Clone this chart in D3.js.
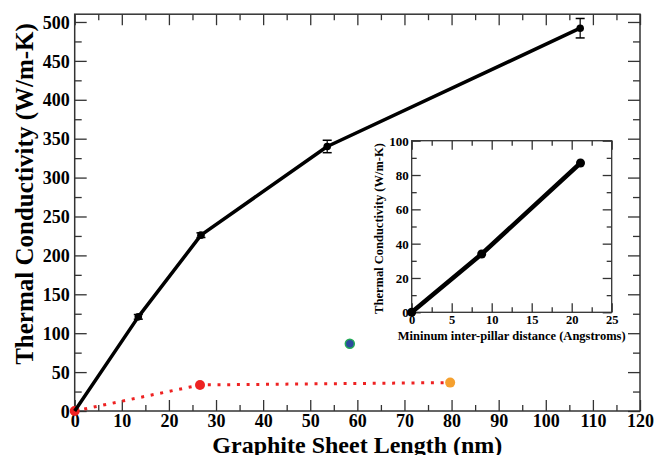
<!DOCTYPE html>
<html>
<head>
<meta charset="utf-8">
<script src="https://cdn.jsdelivr.net/npm/d3@7"></script>
<style>
  html, body { margin: 0; padding: 0; background: #fff; }
  svg { display: block; }
  text { font-family: "Liberation Serif", "Times New Roman", serif; font-weight: bold; fill: #000; }
</style>
</head>
<body>
<svg id="chart" width="656" height="455" font-family="Liberation Serif"></svg>
<script>
// Thermal conductivity vs. graphite sheet length (main panel)
const sheetLength = [0, 13.5, 26.8, 53.6, 107.3];
const conductivity = [0, 121, 226, 340, 492];
const conductivityErr = [0, 3, 3, 8, 12.5];

// Pillared structures (dotted series)
const pillaredLength = [0, 26.6, 79.7];
const pillaredK = [0, 33.5, 36.5];
const pillaredColors = ["#ee2222", "#ee2222", "#f5a02e"];

// Single extra point
const extraLength = [58.4];
const extraK = [86.5];

// Inset: conductivity vs. minimum inter-pillar distance
const pillarDist = [0, 8.75, 21.1];
const pillarK = [0, 34, 87];

const xMajor = d3.range(0, 121, 10);
const xMinor = d3.range(5, 120, 10);
const yMajor = d3.range(0, 501, 50);
const yMinor = d3.range(25, 510, 50);
const ixMajor = d3.range(0, 26, 5);
const ixMinor = d3.range(2.5, 25, 5);
const iyMajor = d3.range(0, 101, 20);
const iyMinor = d3.range(10, 100, 20);

const svg = d3.select("#chart");
const axisColor = "#333";

// ---------- main panel ----------
const x = d3.scaleLinear().domain([0, 120]).range([74.7, 640]);
const y = d3.scaleLinear().domain([0, 510]).range([411, 14.2]);

function styleAxis(g) {
  g.attr("font-family", null);
  g.select(".domain").remove();
  g.selectAll(".tick line").attr("stroke", axisColor).attr("stroke-width", 1.3);
}

const [x0, x1] = x.range();
const [y0, y1] = y.range();

// bottom
svg.append("g").attr("transform", `translate(0,${y0})`)
  .call(d3.axisBottom(x).tickValues(xMajor).tickSize(-11).tickFormat(d3.format("d")))
  .call(styleAxis)
  .call(g => g.selectAll("text").attr("y", 16).attr("dy", 0).attr("font-size", 18));
svg.append("g").attr("transform", `translate(0,${y0})`)
  .call(d3.axisBottom(x).tickValues(xMinor).tickSize(-6).tickFormat(""))
  .call(styleAxis);
// top
svg.append("g").attr("transform", `translate(0,${y1})`)
  .call(d3.axisTop(x).tickValues(xMajor).tickSize(-11).tickFormat(""))
  .call(styleAxis);
svg.append("g").attr("transform", `translate(0,${y1})`)
  .call(d3.axisTop(x).tickValues(xMinor).tickSize(-6).tickFormat(""))
  .call(styleAxis);
// left
svg.append("g").attr("transform", `translate(${x0},0)`)
  .call(d3.axisLeft(y).tickValues(yMajor).tickSize(-12).tickFormat(d3.format("d")))
  .call(styleAxis)
  .call(g => g.selectAll("text").attr("x", -5).attr("dy", "0.34em").attr("font-size", 18));
svg.append("g").attr("transform", `translate(${x0},0)`)
  .call(d3.axisLeft(y).tickValues(yMinor).tickSize(-7).tickFormat(""))
  .call(styleAxis);
// right
svg.append("g").attr("transform", `translate(${x1},0)`)
  .call(d3.axisRight(y).tickValues(yMajor).tickSize(-12).tickFormat(""))
  .call(styleAxis);
svg.append("g").attr("transform", `translate(${x1},0)`)
  .call(d3.axisRight(y).tickValues(yMinor).tickSize(-7).tickFormat(""))
  .call(styleAxis);

svg.append("rect")
  .attr("x", x0).attr("y", y1).attr("width", x1 - x0).attr("height", y0 - y1)
  .attr("fill", "none").attr("stroke", axisColor).attr("stroke-width", 1.5);

svg.append("text")
  .attr("x", (x0 + x1) / 2).attr("y", 453)
  .attr("text-anchor", "middle").attr("font-size", 24)
  .text("Graphite Sheet Length (nm)");

svg.append("text")
  .attr("transform", `translate(33,194) rotate(-90)`)
  .attr("text-anchor", "middle").attr("font-size", 25)
  .text("Thermal Conductivity (W/m-K)");

// dotted pillared series
const pillared = pillaredLength.map((d, i) => ({ x: d, y: pillaredK[i], c: pillaredColors[i] }));
svg.append("path")
  .datum(pillared)
  .attr("fill", "none").attr("stroke", "#ee2222").attr("stroke-width", 3)
  .attr("stroke-dasharray", "3,6.7")
  .attr("d", d3.line().x(d => x(d.x)).y(d => y(d.y)));
svg.selectAll(".pil").data(pillared).join("circle")
  .attr("cx", d => x(d.x)).attr("cy", d => y(d.y)).attr("r", 5)
  .attr("fill", d => d.c);

// extra point
svg.selectAll(".extra").data(extraLength).join("circle")
  .attr("cx", d => x(d)).attr("cy", (d, i) => y(extraK[i])).attr("r", 4.5)
  .attr("fill", "#2b4a9e").attr("stroke", "#23aa58").attr("stroke-width", 1.5);

// main series
const main = sheetLength.map((d, i) => ({ x: d, y: conductivity[i], e: conductivityErr[i] }));
svg.append("path")
  .datum(main)
  .attr("fill", "none").attr("stroke", "#000").attr("stroke-width", 3.5)
  .attr("stroke-linejoin", "round")
  .attr("d", d3.line().x(d => x(d.x)).y(d => y(d.y)));
const eb = svg.selectAll(".err").data(main.filter(d => d.e > 0)).join("g");
eb.append("line")
  .attr("x1", d => x(d.x)).attr("x2", d => x(d.x))
  .attr("y1", d => y(d.y - d.e)).attr("y2", d => y(d.y + d.e))
  .attr("stroke", "#000").attr("stroke-width", 1.2);
eb.append("line")
  .attr("x1", d => x(d.x) - 4.5).attr("x2", d => x(d.x) + 4.5)
  .attr("y1", d => y(d.y - d.e)).attr("y2", d => y(d.y - d.e))
  .attr("stroke", "#000").attr("stroke-width", 1.5);
eb.append("line")
  .attr("x1", d => x(d.x) - 4.5).attr("x2", d => x(d.x) + 4.5)
  .attr("y1", d => y(d.y + d.e)).attr("y2", d => y(d.y + d.e))
  .attr("stroke", "#000").attr("stroke-width", 1.5);
svg.selectAll(".mk").data(main.filter(d => d.x > 0)).join("circle")
  .attr("cx", d => x(d.x)).attr("cy", d => y(d.y)).attr("r", 3.8)
  .attr("fill", "#000");

// ---------- inset ----------
const ix = d3.scaleLinear().domain([0, 25]).range([411.7, 611.7]);
const iy = d3.scaleLinear().domain([0, 100]).range([312.3, 140.7]);
const [ix0, ix1] = ix.range();
const [iy0, iy1] = iy.range();

svg.append("rect")
  .attr("x", ix0).attr("y", iy1).attr("width", ix1 - ix0).attr("height", iy0 - iy1)
  .attr("fill", "#fff");

svg.append("g").attr("transform", `translate(0,${iy0})`)
  .call(d3.axisBottom(ix).tickValues(ixMajor).tickSize(-9).tickFormat(d3.format("d")))
  .call(styleAxis)
  .call(g => g.selectAll("text").attr("y", 12).attr("dy", 0).attr("font-size", 12.5));
svg.append("g").attr("transform", `translate(0,${iy0})`)
  .call(d3.axisBottom(ix).tickValues(ixMinor).tickSize(-5).tickFormat(""))
  .call(styleAxis);
svg.append("g").attr("transform", `translate(0,${iy1})`)
  .call(d3.axisTop(ix).tickValues(ixMajor).tickSize(-9).tickFormat(""))
  .call(styleAxis);
svg.append("g").attr("transform", `translate(0,${iy1})`)
  .call(d3.axisTop(ix).tickValues(ixMinor).tickSize(-5).tickFormat(""))
  .call(styleAxis);
svg.append("g").attr("transform", `translate(${ix0},0)`)
  .call(d3.axisLeft(iy).tickValues(iyMajor).tickSize(-9).tickFormat(d3.format("d")))
  .call(styleAxis)
  .call(g => g.selectAll("text").attr("x", -3).attr("dy", "0.34em").attr("font-size", 13));
svg.append("g").attr("transform", `translate(${ix0},0)`)
  .call(d3.axisLeft(iy).tickValues(iyMinor).tickSize(-5).tickFormat(""))
  .call(styleAxis);
svg.append("g").attr("transform", `translate(${ix1},0)`)
  .call(d3.axisRight(iy).tickValues(iyMajor).tickSize(-9).tickFormat(""))
  .call(styleAxis);
svg.append("g").attr("transform", `translate(${ix1},0)`)
  .call(d3.axisRight(iy).tickValues(iyMinor).tickSize(-5).tickFormat(""))
  .call(styleAxis);

svg.append("rect")
  .attr("x", ix0).attr("y", iy1).attr("width", ix1 - ix0).attr("height", iy0 - iy1)
  .attr("fill", "none").attr("stroke", axisColor).attr("stroke-width", 1.3);

svg.append("text")
  .attr("x", (ix0 + ix1) / 2).attr("y", 339.5)
  .attr("text-anchor", "middle").attr("font-size", 12.5)
  .text("Mininum inter-pillar distance (Angstroms)");

svg.append("text")
  .attr("transform", `translate(383,${(iy0 + iy1) / 2 + 2}) rotate(-90)`)
  .attr("text-anchor", "middle").attr("font-size", 12.5)
  .text("Thermal Conductivity (W/m-K)");

const inset = pillarDist.map((d, i) => ({ x: d, y: pillarK[i] }));
svg.append("path")
  .datum(inset)
  .attr("fill", "none").attr("stroke", "#000").attr("stroke-width", 4.5)
  .attr("d", d3.line().x(d => ix(d.x)).y(d => iy(d.y)));
svg.selectAll(".imk").data(inset).join("circle")
  .attr("cx", d => ix(d.x)).attr("cy", d => iy(d.y)).attr("r", 4.5)
  .attr("fill", "#000");
</script>
</body>
</html>
